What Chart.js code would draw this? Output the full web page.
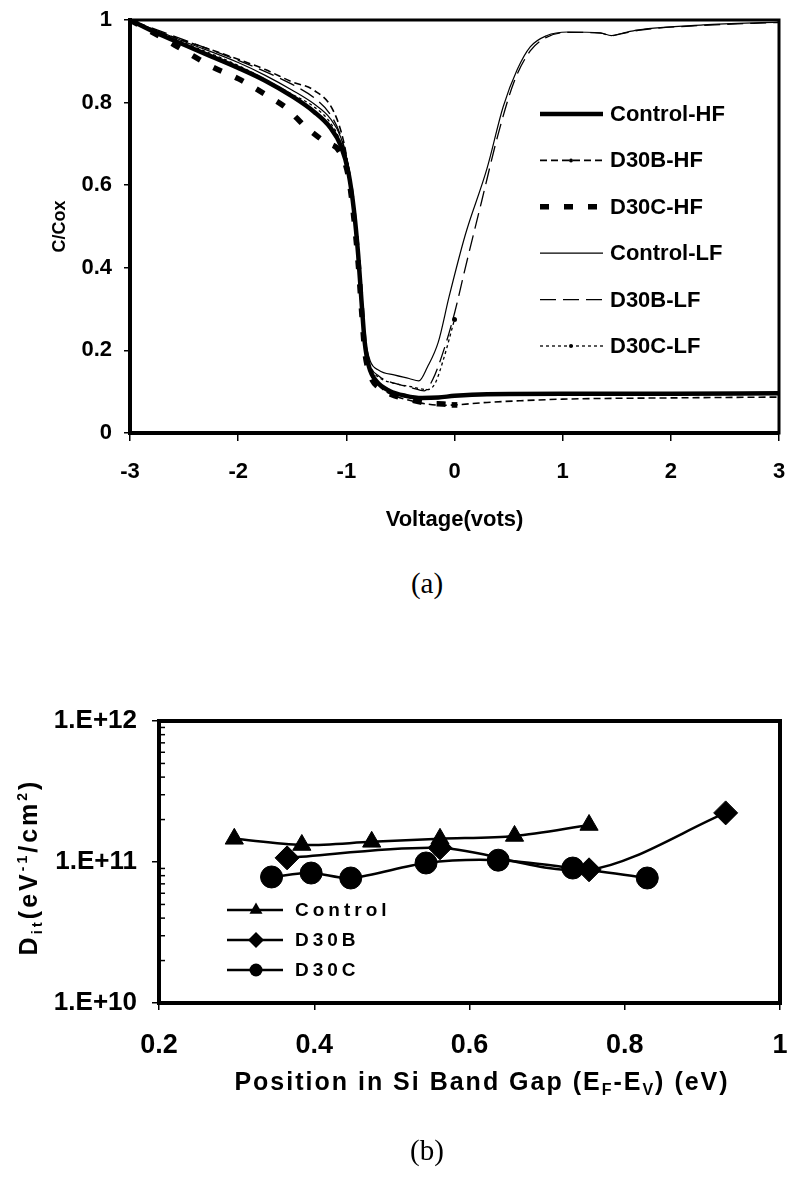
<!DOCTYPE html>
<html>
<head>
<meta charset="utf-8">
<script src="https://cdn.jsdelivr.net/npm/chart.js@4.4.1/dist/chart.umd.min.js"></script>
<style>
  html, body { margin: 0; padding: 0; background: #fff; }
  body { width: 793px; height: 1187px; position: relative; overflow: hidden; }
  canvas { position: absolute; left: 0; }
  #cvA { top: 0; }
  #cvB { top: 680px; }
  .cap { position: absolute; width: 100px; text-align: center; font-family: "Liberation Serif", "Times New Roman", serif; font-size: 29px; line-height: 34px; }
</style>
</head>
<body>
<canvas id="cvA" width="793" height="560"></canvas>
<div class="cap" style="left:377px; top:566px">(a)</div>
<canvas id="cvB" width="793" height="460"></canvas>
<div class="cap" style="left:377px; top:1133px">(b)</div>
<script>
// ---- (a) C-V curves ----
const vControlHF = [-3, -2.75, -2.5, -2.25, -2, -1.75, -1.5, -1.3, -1.15, -1.05, -0.98, -0.93, -0.89, -0.86, -0.83, -0.79, -0.72, -0.6, -0.45, -0.3, -0.15, 0, 0.3, 1, 2, 3];
const cControlHF = [1, 0.968, 0.94, 0.912, 0.884, 0.853, 0.815, 0.778, 0.74, 0.695, 0.63, 0.54, 0.43, 0.32, 0.22, 0.16, 0.125, 0.102, 0.09, 0.085, 0.086, 0.09, 0.094, 0.095, 0.095, 0.096];

const vD30BHF = [-3, -2.75, -2.5, -2.25, -2, -1.75, -1.5, -1.3, -1.12, -1.02, -0.97, -0.93, -0.89, -0.86, -0.83, -0.78, -0.7, -0.55, -0.4, -0.25, -0.1, 0, 0.3, 0.6, 1, 2, 3];
const cD30BHF = [1, 0.972, 0.95, 0.928, 0.905, 0.88, 0.85, 0.83, 0.78, 0.7, 0.62, 0.53, 0.43, 0.32, 0.22, 0.15, 0.115, 0.09, 0.078, 0.07, 0.067, 0.068, 0.074, 0.078, 0.082, 0.085, 0.087];

const vD30CHF = [-3, -2.75, -2.5, -2.25, -2, -1.75, -1.55, -1.38, -1.2, -1.06, -0.98, -0.93, -0.89, -0.86, -0.83, -0.78, -0.7, -0.55, -0.4, -0.25, -0.1, 0];
const cD30CHF = [1, 0.964, 0.926, 0.888, 0.858, 0.82, 0.786, 0.742, 0.705, 0.68, 0.62, 0.52, 0.41, 0.3, 0.2, 0.14, 0.11, 0.09, 0.08, 0.072, 0.07, 0.068];

const vControlLF = [-3, -2.5, -2, -1.75, -1.5, -1.3, -1.15, -1.05, -0.98, -0.93, -0.89, -0.86, -0.83, -0.78, -0.7, -0.55, -0.42, -0.33, -0.25, -0.15, -0.05, 0.1, 0.3, 0.45, 0.58, 0.7, 0.85, 1.05, 1.35, 1.45, 1.55, 1.7, 2.3, 3];
const cControlLF = [1, 0.948, 0.897, 0.866, 0.83, 0.797, 0.762, 0.715, 0.645, 0.545, 0.435, 0.325, 0.235, 0.175, 0.152, 0.14, 0.132, 0.126, 0.16, 0.22, 0.33, 0.48, 0.64, 0.79, 0.88, 0.935, 0.962, 0.971, 0.969, 0.962, 0.968, 0.976, 0.988, 0.995];

const vD30BLF = [-3, -2.5, -2, -1.75, -1.5, -1.3, -1.15, -1.05, -0.98, -0.93, -0.89, -0.86, -0.83, -0.78, -0.7, -0.55, -0.4, -0.28, -0.2, -0.1, 0, 0.1, 0.25, 0.4, 0.55, 0.7, 0.85, 1.05, 1.35, 1.45, 1.55, 1.7, 2.3, 3];
const cD30BLF = [1, 0.952, 0.902, 0.875, 0.844, 0.812, 0.772, 0.718, 0.645, 0.545, 0.435, 0.325, 0.232, 0.165, 0.138, 0.12, 0.11, 0.102, 0.13, 0.2, 0.29, 0.4, 0.56, 0.72, 0.85, 0.925, 0.958, 0.97, 0.968, 0.962, 0.967, 0.975, 0.987, 0.994];

const vD30CLF = [-3, -2.5, -2, -1.5, -1.3, -1.15, -1.05, -0.98, -0.93, -0.89, -0.86, -0.83, -0.78, -0.7, -0.55, -0.4, -0.25, -0.18, -0.1, 0];
const cD30CLF = [1, 0.945, 0.89, 0.82, 0.79, 0.752, 0.702, 0.632, 0.532, 0.422, 0.312, 0.222, 0.16, 0.135, 0.12, 0.112, 0.105, 0.12, 0.18, 0.275];

const voltTicks = [-3, -2, -1, 0, 1, 2, 3];
const capTicks = [0, 0.2, 0.4, 0.6, 0.8, 1];

// ---- (b) interface trap density ----
const controlPos = [0.297, 0.384, 0.474, 0.562, 0.658, 0.754];
const controlDit = [1.46e11, 1.32e11, 1.39e11, 1.46e11, 1.53e11, 1.83e11];
const d30bPos = [0.365, 0.562, 0.754, 0.93];
const d30bDit = [1.07e11, 1.26e11, 0.88e11, 2.23e11];
const d30cPos = [0.345, 0.396, 0.447, 0.544, 0.637, 0.733, 0.829];
const d30cDit = [0.783e11, 0.835e11, 0.77e11, 0.984e11, 1.03e11, 0.906e11, 0.77e11];

const posTicks = [0.2, 0.4, 0.6, 0.8, 1];
const ditTicks = [1e10, 1e11, 1e12];

const FONT = "'Liberation Sans', Arial, Helvetica, sans-serif";
Chart.defaults.font.family = FONT;
Chart.defaults.font.weight = 'bold';
Chart.defaults.color = '#000';

function pts(xs, ys) {
  return xs.map((x, i) => ({ x: x, y: ys[i] }));
}

function lastOnly(r) {
  return (ctx) => (ctx.dataIndex === ctx.dataset.data.length - 1 ? r : 0);
}

// fixed axis boxes so the plot area sits where the original has it
function fixX(h) {
  return (s) => { s.height = h; s.paddingLeft = 0; s.paddingRight = 0; };
}
function fixY(w) {
  return (s) => { s.width = w; s.paddingTop = 0; s.paddingBottom = 0; };
}

// frame round the plot area
const framePlugin = {
  id: 'frame',
  afterDraw(chart, args, opts) {
    const { ctx, chartArea: a } = chart;
    ctx.save();
    ctx.strokeStyle = '#000';
    ctx.lineWidth = opts.width || 3;
    ctx.strokeRect(a.left, a.top, a.right - a.left, a.bottom - a.top);
    ctx.restore();
  }
};

// legend of (a), drawn inside the plot on the right
const legendAPlugin = {
  id: 'legendA',
  afterDraw(chart) {
    const ctx = chart.ctx;
    ctx.save();
    chart.data.datasets.forEach((ds, i) => {
      const y = 114 + i * 46.4;
      ctx.strokeStyle = '#000';
      ctx.lineWidth = ds.borderWidth;
      ctx.setLineDash(ds.borderDash || []);
      ctx.beginPath();
      ctx.moveTo(540, y);
      ctx.lineTo(603, y);
      ctx.stroke();
      ctx.setLineDash([]);
      if (ds.legendDot) {
        ctx.fillStyle = '#000';
        ctx.beginPath();
        ctx.arc(571, y, 2, 0, Math.PI * 2);
        ctx.fill();
      }
      ctx.fillStyle = '#000';
      ctx.font = 'bold 22px ' + FONT;
      ctx.textBaseline = 'middle';
      ctx.textAlign = 'left';
      ctx.fillText(ds.label, 610, y + 1);
    });
    ctx.restore();
  }
};

const datasetsA = [
  { label: 'Control-HF', data: pts(vControlHF, cControlHF), borderWidth: 4.5, borderDash: [] },
  { label: 'D30B-HF', data: pts(vD30BHF, cD30BHF), borderWidth: 1.6, borderDash: [7, 4], legendDot: true },
  { label: 'D30C-HF', data: pts(vD30CHF, cD30CHF), borderWidth: 5.5, borderDash: [9, 15],
    pointStyle: 'rect', pointRadius: lastOnly(4) },
  { label: 'Control-LF', data: pts(vControlLF, cControlLF), borderWidth: 1.2, borderDash: [] },
  { label: 'D30B-LF', data: pts(vD30BLF, cD30BLF), borderWidth: 1.3, borderDash: [16, 7] },
  { label: 'D30C-LF', data: pts(vD30CLF, cD30CLF), borderWidth: 1.3, borderDash: [3, 3],
    pointRadius: lastOnly(2.5), legendDot: true }
].map((d) => Object.assign({
  borderColor: '#000',
  backgroundColor: '#000',
  pointBorderWidth: 0,
  pointRadius: 0,
  cubicInterpolationMode: 'monotone',
  fill: false
}, d));

new Chart(document.getElementById('cvA'), {
  type: 'line',
  data: { datasets: datasetsA },
  plugins: [framePlugin, legendAPlugin],
  options: {
    responsive: false,
    animation: false,
    events: [],
    layout: { padding: { top: 20, right: 14, left: 0, bottom: 0 } },
    plugins: {
      legend: { display: false },
      tooltip: { enabled: false },
      frame: { width: 3 }
    },
    scales: {
      x: {
        type: 'linear',
        min: -3,
        max: 3,
        afterBuildTicks: (s) => { s.ticks = voltTicks.map((v) => ({ value: v })); },
        afterFit: fixX(127),
        ticks: { font: { size: 22 }, padding: 18, maxRotation: 0, autoSkip: false },
        grid: { drawOnChartArea: false, tickLength: 8, color: '#000', lineWidth: 1.5 },
        border: { color: '#000', width: 4 },
        title: { display: true, text: 'Voltage(vots)', font: { size: 22, weight: 'bold' }, padding: { top: 0, bottom: 27 } }
      },
      y: {
        type: 'linear',
        min: 0,
        max: 1,
        afterBuildTicks: (s) => { s.ticks = capTicks.map((v) => ({ value: v })); },
        afterFit: fixY(130),
        ticks: { font: { size: 22 }, padding: 12, callback: (v) => String(+v.toFixed(1)) },
        grid: { drawOnChartArea: false, tickLength: 6, color: '#000', lineWidth: 1.5 },
        border: { color: '#000', width: 4 },
        title: { display: true, text: 'C/Cox', font: { size: 18, weight: 'bold' }, padding: { top: 49, bottom: 0 } }
      }
    }
  }
});

// ---- (b) ----
function richText(ctx, parts, cx, cy, angle, spacing, base) {
  ctx.save();
  ctx.translate(cx, cy);
  ctx.rotate(angle);
  ctx.fillStyle = '#000';
  ctx.textBaseline = 'alphabetic';
  ctx.textAlign = 'left';
  if ('letterSpacing' in ctx) ctx.letterSpacing = spacing + 'px';
  let total = 0;
  parts.forEach((p) => {
    ctx.font = 'bold ' + p.size + 'px ' + FONT;
    p.w = ctx.measureText(p.t).width;
    total += p.w;
  });
  let x = -total / 2;
  parts.forEach((p) => {
    ctx.font = 'bold ' + p.size + 'px ' + FONT;
    ctx.fillText(p.t, x, base * 0.36 + (p.dy || 0));
    x += p.w;
  });
  ctx.restore();
}

const legendBPlugin = {
  id: 'legendB',
  afterDraw(chart) {
    const ctx = chart.ctx;
    const top = chart.canvas.offsetTop;
    ctx.save();
    chart.data.datasets.forEach((ds, i) => {
      const y = 910 + i * 30 - top;
      ctx.strokeStyle = '#000';
      ctx.fillStyle = '#000';
      ctx.lineWidth = 2.5;
      ctx.beginPath();
      ctx.moveTo(227, y);
      ctx.lineTo(283, y);
      ctx.stroke();
      Chart.helpers.drawPoint(ctx, { pointStyle: ds.pointStyle, radius: ds.legendRadius, rotation: 0, borderWidth: 0 }, 256, y);
      ctx.font = 'bold 19px ' + FONT;
      if ('letterSpacing' in ctx) ctx.letterSpacing = '4px';
      ctx.textBaseline = 'middle';
      ctx.fillText(ds.label, 295, y + 1);
      if ('letterSpacing' in ctx) ctx.letterSpacing = '0px';
    });
    ctx.restore();

    // axis titles with sub/superscripts
    const a = chart.chartArea;
    richText(ctx, [
      { t: 'D', size: 25 },
      { t: 'it', size: 15, dy: 5 },
      { t: '(eV', size: 25 },
      { t: '-1', size: 14, dy: -10 },
      { t: '/cm', size: 25 },
      { t: '2', size: 14, dy: -10 },
      { t: ')', size: 25 }
    ], 28, (a.top + a.bottom) / 2 + 5, -Math.PI / 2, 3, 25);
    richText(ctx, [
      { t: 'Position in Si Band Gap (E', size: 25 },
      { t: 'F', size: 16, dy: 5 },
      { t: '-E', size: 25 },
      { t: 'V', size: 16, dy: 5 },
      { t: ') (eV)', size: 25 }
    ], 482, 1081 - top, 0, 2, 25);
  }
};

// small inside ticks between the decades of the log axis
const minorPlugin = {
  id: 'minorTicks',
  afterDraw(chart) {
    const { ctx, chartArea: a, scales } = chart;
    ctx.save();
    ctx.strokeStyle = '#000';
    ctx.lineWidth = 1.5;
    [1e10, 1e11].forEach((dec) => {
      for (let k = 2; k <= 9; k++) {
        const py = scales.y.getPixelForValue(k * dec);
        ctx.beginPath();
        ctx.moveTo(a.left, py);
        ctx.lineTo(a.left + 6, py);
        ctx.stroke();
      }
    });
    ctx.restore();
  }
};

const datasetsB = [
  { label: 'Control', data: pts(controlPos, controlDit), pointStyle: 'triangle', pointRadius: 10.5, legendRadius: 7.5 },
  { label: 'D30B', data: pts(d30bPos, d30bDit), pointStyle: 'rectRot', pointRadius: 12, legendRadius: 8 },
  { label: 'D30C', data: pts(d30cPos, d30cDit), pointStyle: 'circle', pointRadius: 11, legendRadius: 6.5 }
].map((d) => Object.assign({
  borderColor: '#000',
  backgroundColor: '#000',
  pointBackgroundColor: '#000',
  pointBorderColor: '#000',
  pointBorderWidth: 1,
  borderWidth: 2.5,
  tension: 0.3,
  fill: false
}, d));

new Chart(document.getElementById('cvB'), {
  type: 'line',
  data: { datasets: datasetsB },
  plugins: [framePlugin, minorPlugin, legendBPlugin],
  options: {
    responsive: false,
    animation: false,
    events: [],
    layout: { padding: { top: 41, right: 9, left: 0, bottom: 0 } },
    plugins: {
      legend: { display: false },
      tooltip: { enabled: false },
      frame: { width: 4 }
    },
    scales: {
      x: {
        type: 'linear',
        min: 0.2,
        max: 1,
        afterBuildTicks: (s) => { s.ticks = posTicks.map((v) => ({ value: v })); },
        afterFit: fixX(137),
        ticks: { font: { size: 27 }, padding: 19, maxRotation: 0, autoSkip: false, callback: (v) => String(+v.toFixed(1)) },
        grid: { drawOnChartArea: false, tickLength: 7, color: '#000', lineWidth: 1.5 },
        border: { color: '#000', width: 4 }
      },
      y: {
        type: 'logarithmic',
        min: 1e10,
        max: 1e12,
        afterBuildTicks: (s) => { s.ticks = ditTicks.map((v) => ({ value: v })); },
        afterFit: fixY(159),
        ticks: { font: { size: 26 }, padding: 15, callback: (v) => '1.E+' + Math.round(Math.log10(v)) },
        grid: { drawOnChartArea: false, tickLength: 7, color: '#000', lineWidth: 1.5 },
        border: { color: '#000', width: 4 }
      }
    }
  }
});
</script>
</body>
</html>
